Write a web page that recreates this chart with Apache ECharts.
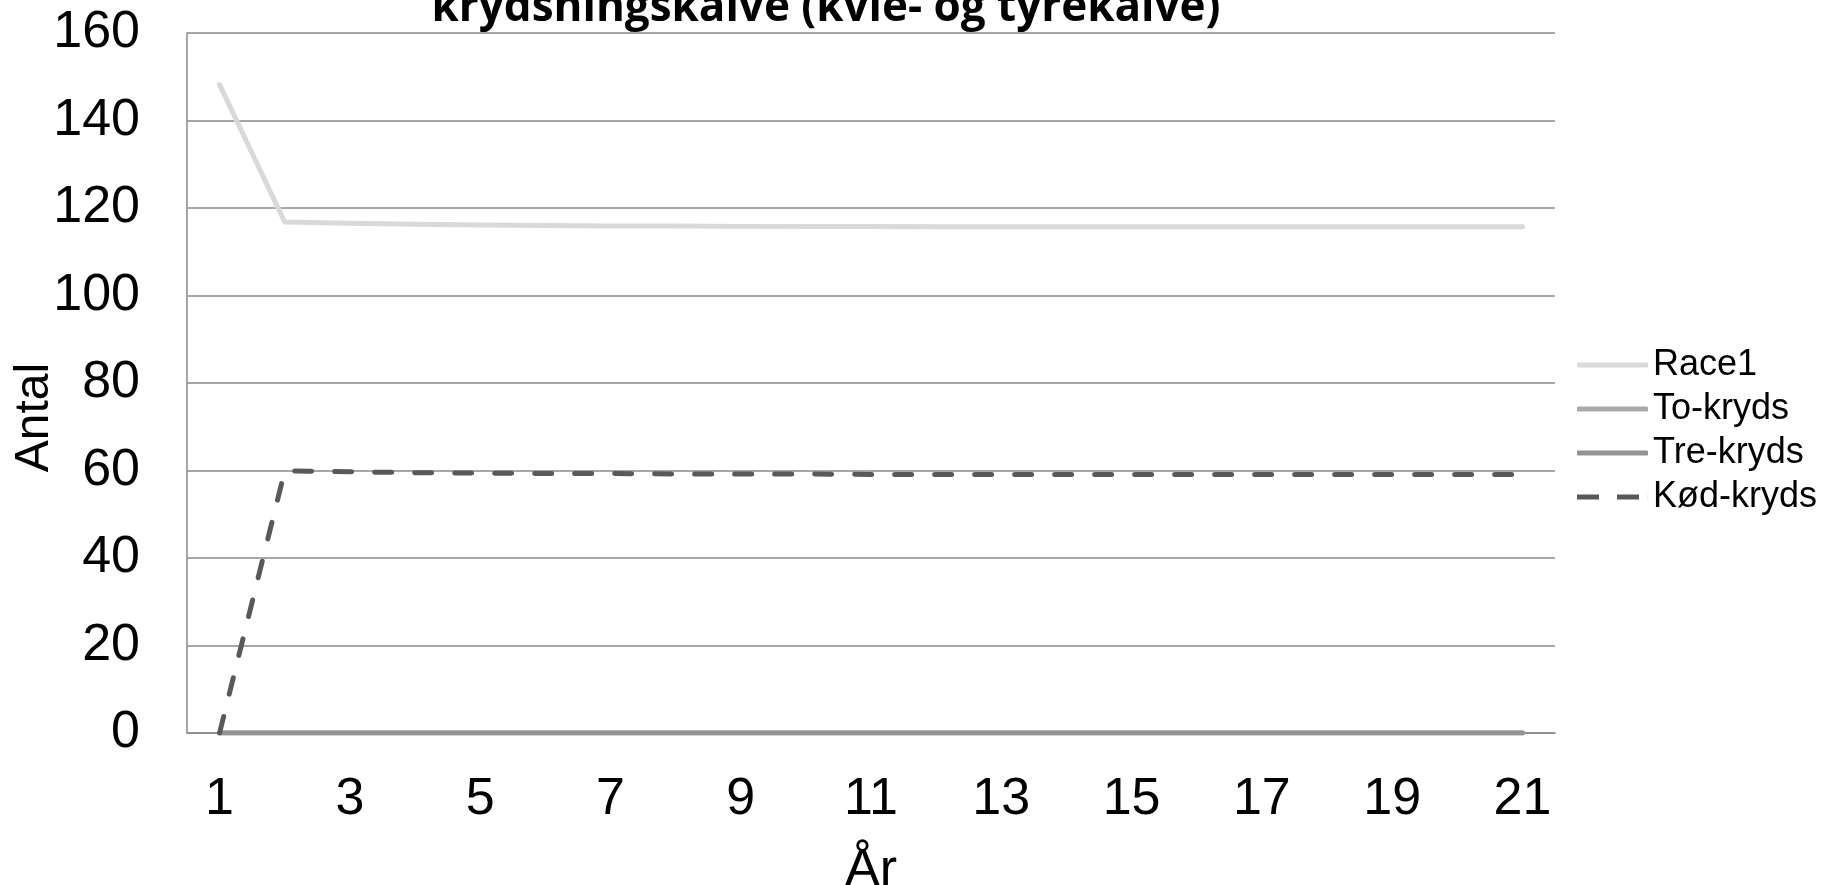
<!DOCTYPE html>
<html>
<head>
<meta charset="utf-8">
<script src="https://cdn.jsdelivr.net/npm/echarts@6/dist/echarts.min.js"></script>
<style>html,body{margin:0;padding:0;background:#fff;}#c{width:1829px;height:885px;}</style>
</head>
<body>
<div id="c"></div>
<script>
const titleText = 'krydsningskalve (kvie- og tyrekalve)';
const years = ['1','2','3','4','5','6','7','8','9','10','11','12','13','14','15','16','17','18','19','20','21'];
const race1 = [148.2,116.8,116.5,116.3,116.1,116.0,115.9,115.9,115.8,115.8,115.8,115.7,115.7,115.7,115.7,115.7,115.7,115.7,115.7,115.7,115.7];
const toKryds = [0,0,0,0,0,0,0,0,0,0,0,0,0,0,0,0,0,0,0,0,0];
const treKryds = [0,0,0,0,0,0,0,0,0,0,0,0,0,0,0,0,0,0,0,0,0];
const kodKryds = [0,59.9,59.7,59.5,59.4,59.3,59.3,59.2,59.2,59.2,59.1,59.1,59.1,59.1,59.1,59.1,59.1,59.1,59.1,59.1,59.1];
const seriesNames = ['Race1','To-kryds','Tre-kryds','Kød-kryds'];
const yTicks = [0,20,40,60,80,100,120,140,160];

const chart = echarts.init(document.getElementById('c'));
const font = 'Liberation Sans, Arial, sans-serif';
const dashIcon = 'path://M0,0h22v5h-22z M40,0h22v5h-22z M70.9,0h0.1v5h-0.1z';
chart.setOption({
  animation: false,
  backgroundColor: '#ffffff',
  title: {
    text: titleText,
    left: 821, top: -19,
    textAlign: 'center',
    textStyle: {fontFamily: 'Open Sans, sans-serif', fontWeight: 'bold', fontSize: 44, color: '#000'}
  },
  legend: {
    orient: 'vertical',
    left: 1572, top: 342,
    itemWidth: 71, itemHeight: 5,
    itemGap: 8,
    textStyle: {fontFamily: font, fontSize: 36, color: '#000'},
    data: [
      {name: seriesNames[0], icon: 'roundRect'},
      {name: seriesNames[1], icon: 'roundRect'},
      {name: seriesNames[2], icon: 'roundRect'},
      {name: seriesNames[3], icon: dashIcon}
    ]
  },
  grid: {left: 187, top: 33, width: 1368, height: 700, containLabel: false, outerBoundsMode: 'none'},
  xAxis: {
    type: 'category',
    data: years,
    boundaryGap: true,
    name: 'År',
    nameLocation: 'middle',
    nameGap: 112,
    nameMoveOverlap: false,
    nameTextStyle: {fontFamily: font, fontSize: 52, color: '#000'},
    axisLine: {show: true, lineStyle: {color: '#8a8a8a', width: 1.5}},
    axisTick: {show: false},
    axisLabel: {interval: 1, fontFamily: font, fontSize: 52, color: '#000', margin: 41}
  },
  yAxis: {
    type: 'value',
    min: 0, max: 160, interval: 20,
    name: 'Antal',
    nameLocation: 'middle',
    nameGap: 128,
    nameMoveOverlap: false,
    nameTextStyle: {fontFamily: font, fontSize: 48, color: '#000', padding: [0, 69, 0, 0]},
    axisLine: {show: true, lineStyle: {color: '#8a8a8a', width: 1.5}},
    axisTick: {show: false},
    splitLine: {show: true, lineStyle: {color: '#8a8a8a', width: 1.5}},
    axisLabel: {fontFamily: font, fontSize: 52, color: '#000', margin: 47,
      formatter: v => yTicks.includes(v) ? String(v) : ''}
  },
  series: [
    {name: seriesNames[0], type: 'line', data: race1, symbol: 'none', color: '#d9d9d9',
     lineStyle: {color: '#d9d9d9', width: 5, cap: 'round', join: 'round'}},
    {name: seriesNames[1], type: 'line', data: toKryds, symbol: 'none', color: '#a9a9a9',
     lineStyle: {color: '#a9a9a9', width: 5, cap: 'round'}},
    {name: seriesNames[2], type: 'line', data: treKryds, symbol: 'none', color: '#939393',
     lineStyle: {color: '#939393', width: 5, cap: 'round'}},
    {name: seriesNames[3], type: 'line', data: kodKryds, symbol: 'none', color: '#595959',
     lineStyle: {color: '#595959', width: 5, type: [17, 23], cap: 'round', join: 'round'}}
  ]
});
</script>
</body>
</html>
